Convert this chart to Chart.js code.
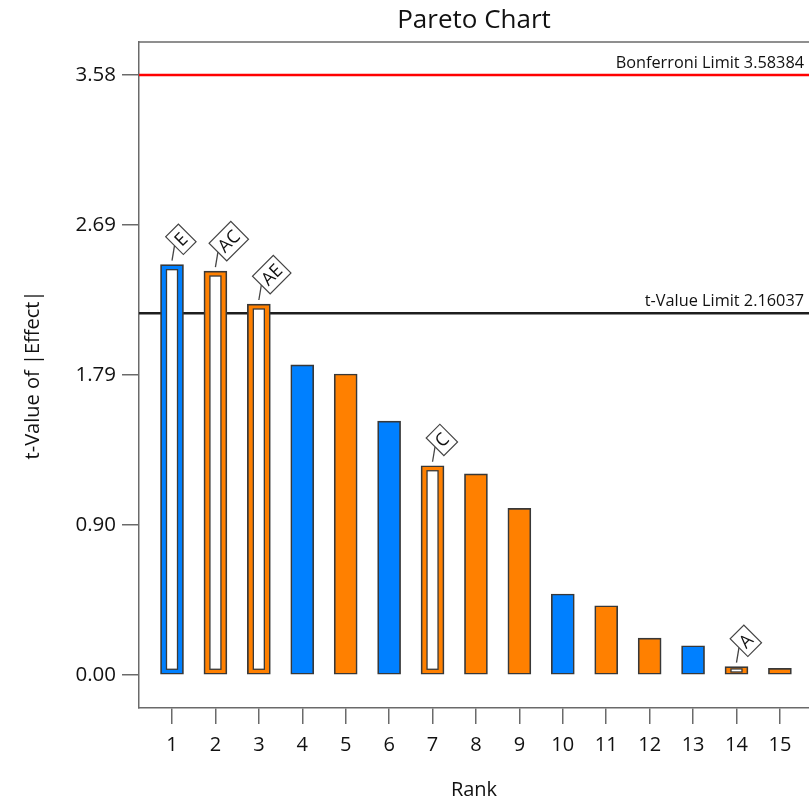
<!DOCTYPE html>
<html>
<head>
<meta charset="utf-8">
<script src="https://cdn.jsdelivr.net/npm/chart.js@4.4.1/dist/chart.umd.min.js"></script>
<style>
  html, body { margin: 0; padding: 0; background: #ffffff; }
  #wrap { width: 809px; height: 804px; position: relative; }
</style>
</head>
<body>
<div id="wrap"><canvas id="pareto" width="809" height="804"></canvas></div>
<script>
// Effects ranked by |t|
const ranks = [1, 2, 3, 4, 5, 6, 7, 8, 9, 10, 11, 12, 13, 14, 15];
const tValues = [2.451, 2.413, 2.216, 1.852, 1.798, 1.517, 1.250, 1.201, 0.996, 0.484, 0.414, 0.221, 0.175, 0.050, 0.040];
const termLabels = ['E', 'AC', 'AE', '', '', '', 'C', '', '', '', '', '', '', 'A', ''];
const modelTerms = [true, true, true, false, false, false, true, false, false, false, false, false, false, true, false];
const effectSigns = ['pos', 'neg', 'neg', 'pos', 'neg', 'pos', 'neg', 'neg', 'neg', 'pos', 'neg', 'neg', 'pos', 'neg', 'neg'];
const yTickValues = [0, 0.89596, 1.79192, 2.68788, 3.58384];
const bonferroniLimit = 3.58384;
const tValueLimit = 2.16037;

const FONT = '"Open Sans", "Noto Sans", sans-serif';
const TEXT = '#111111';
const AXIS = '#6a6a6a';
const signColors = { pos: '#0080ff', neg: '#ff8000' };

// Frame, title and limit lines (drawn under the bars)
const framePlugin = {
  id: 'frame',
  beforeDatasetsDraw(chart) {
    const { ctx, chartArea: a, scales: { y } } = chart;
    ctx.save();
    const limits = [
      { v: bonferroniLimit, color: '#ff0000', text: 'Bonferroni Limit ' + bonferroniLimit.toFixed(5) },
      { v: tValueLimit, color: '#1e1e1e', text: 't-Value Limit ' + tValueLimit.toFixed(5) }
    ];
    limits.forEach(l => {
      const py = y.getPixelForValue(l.v);
      ctx.strokeStyle = l.color;
      ctx.lineWidth = 2.5;
      ctx.beginPath();
      ctx.moveTo(a.left, py);
      ctx.lineTo(a.right, py);
      ctx.stroke();
      ctx.fillStyle = TEXT;
      ctx.font = '16.3px ' + FONT;
      ctx.textAlign = 'right';
      ctx.textBaseline = 'alphabetic';
      ctx.fillText(l.text, a.right - 5, py - 7);
    });
    ctx.restore();
  },
  afterDraw(chart) {
    const { ctx, chartArea: a } = chart;
    ctx.save();
    ctx.strokeStyle = AXIS;
    ctx.lineWidth = 1.5;
    ctx.beginPath();
    ctx.moveTo(a.left, a.top);
    ctx.lineTo(a.right + 2, a.top);
    ctx.stroke();
    ctx.fillStyle = TEXT;
    ctx.font = '26px ' + FONT;
    ctx.textAlign = 'center';
    ctx.textBaseline = 'middle';
    ctx.fillText('Pareto Chart', (a.left + a.right) / 2, 21);
    ctx.restore();
  }
};

// Hollow bars for terms in the model, plus their tag labels
const termPlugin = {
  id: 'terms',
  afterDatasetsDraw(chart) {
    const { ctx } = chart;
    const bars = chart.getDatasetMeta(0).data;
    ctx.save();
    bars.forEach((bar, i) => {
      if (!modelTerms[i]) return;
      const { x, y, base, width } = bar.getProps(['x', 'y', 'base', 'width'], true);
      const h = base - y;
      const ix = 6;
      const iy = Math.min(5, h / 3.3);
      ctx.fillStyle = '#ffffff';
      ctx.strokeStyle = '#3a3a3a';
      ctx.lineWidth = 1.3;
      ctx.fillRect(x - width / 2 + ix, y + iy, width - 2 * ix, h - 2 * iy);
      ctx.strokeRect(x - width / 2 + ix, y + iy, width - 2 * ix, h - 2 * iy);
    });
    bars.forEach((bar, i) => {
      const label = termLabels[i];
      if (!label) return;
      const { x, y } = bar.getProps(['x', 'y'], true);
      const x0 = x, y0 = y - 4;
      const x1 = x + 2.5, y1 = y - 19;
      ctx.strokeStyle = '#444444';
      ctx.lineWidth = 1.3;
      ctx.beginPath();
      ctx.moveTo(x0, y0);
      ctx.lineTo(x1, y1);
      ctx.stroke();
      ctx.save();
      ctx.translate(x1, y1);
      ctx.rotate(-Math.PI / 4);
      ctx.font = '18px ' + FONT;
      const w = ctx.measureText(label).width + 8;
      const bh = 25;
      ctx.fillStyle = '#ffffff';
      ctx.fillRect(0, -bh / 2, w, bh);
      ctx.strokeStyle = '#444444';
      ctx.lineWidth = 1.2;
      ctx.strokeRect(0, -bh / 2, w, bh);
      ctx.fillStyle = TEXT;
      ctx.textAlign = 'center';
      ctx.textBaseline = 'middle';
      ctx.fillText(label, w / 2, 1);
      ctx.restore();
    });
    ctx.restore();
  }
};

new Chart(document.getElementById('pareto').getContext('2d'), {
  type: 'bar',
  data: {
    datasets: [{
      data: ranks.map((r, i) => ({ x: r, y: tValues[i] })),
      backgroundColor: effectSigns.map(s => signColors[s]),
      borderColor: '#383838',
      borderWidth: 1.7,
      borderSkipped: false,
      barThickness: 23
    }]
  },
  options: {
    responsive: false,
    animation: false,
    devicePixelRatio: 1,
    layout: { padding: { top: 42, left: 0, right: 0, bottom: 0 } },
    plugins: {
      legend: { display: false },
      tooltip: { enabled: false },
      title: { display: false }
    },
    scales: {
      x: {
        type: 'linear',
        min: 0.24,
        max: 15.67,
        offset: false,
        afterBuildTicks: s => { s.ticks = ranks.map(v => ({ value: v })); },
        afterFit: s => { s.height = 96; },
        grid: { drawOnChartArea: false, drawTicks: true, tickLength: 16, color: AXIS, lineWidth: 1.5, offset: false },
        border: { display: true, color: AXIS, width: 1.5 },
        ticks: {
          font: { family: FONT, size: 20 },
          color: TEXT,
          padding: 9,
          maxRotation: 0,
          autoSkip: false,
          callback: v => String(v)
        },
        title: {
          display: true,
          text: 'Rank',
          color: TEXT,
          font: { family: FONT, size: 20 },
          padding: { top: 0, bottom: 2 }
        }
      },
      y: {
        min: -0.197,
        max: 3.781,
        afterBuildTicks: s => { s.ticks = yTickValues.map(v => ({ value: v })); },
        afterFit: s => { s.width = 139; },
        grid: { drawOnChartArea: false, drawTicks: true, tickLength: 17, color: AXIS, lineWidth: 1.5 },
        border: { display: true, color: AXIS, width: 1.5 },
        ticks: {
          font: { family: FONT, size: 20.5 },
          color: TEXT,
          padding: 6,
          callback: v => Number(v).toFixed(2)
        },
        title: {
          display: true,
          text: 't-Value of |Effect|',
          color: TEXT,
          font: { family: FONT, size: 20 },
          padding: { top: 21, bottom: 0 }
        }
      }
    }
  },
  plugins: [framePlugin, termPlugin]
});
</script>
</body>
</html>
